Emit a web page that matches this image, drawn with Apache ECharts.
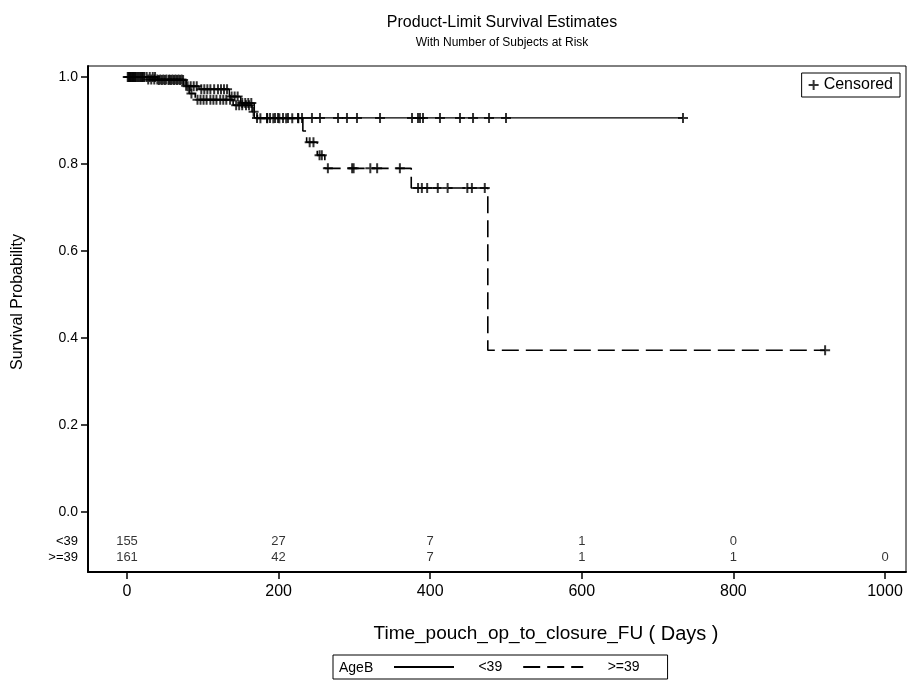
<!DOCTYPE html>
<html><head><meta charset="utf-8">
<script src="https://cdn.jsdelivr.net/npm/echarts@6/dist/echarts.min.js"></script>
<style>html,body{margin:0;padding:0;background:#fff}#c{width:907px;height:682px}</style>
</head><body><div id="c"></div>
<script>
// ---- data ----
const groupNames = ['<39', '>=39'];
const ltEventTimes = [40, 78, 95, 135, 150, 168];
const ltEventSurv  = [0.993, 0.979, 0.972, 0.955, 0.94, 0.906];
const ltCensorTimes = [2,4,6,8,10,12,15,18,20,23,26,30,34,37,42,46,50,55,58,62,66,70,74,80,84,88,92,
  98,102,106,110,115,120,124,128,132,138,142,146,152,156,160,164,
  171.5,184.7,188.7,195.3,199.2,205.8,212.4,225.6,230.9,244,254.6,278.4,290.2,303.4,333.8,376,383.9,386.5,390.5,412.9,439.3,456.5,477.6,500,733.5];
const geEventTimes = [25, 75, 82, 90, 140, 165, 172, 232, 237, 251, 261, 375, 476];
const geEventSurv  = [0.994, 0.98, 0.962, 0.948, 0.935, 0.92, 0.905, 0.876, 0.85, 0.82, 0.79, 0.745, 0.372];
const geCensorTimes = [1,3,5,7,9,11,14,17,20,22,28,32,36,40,44,48,52,56,60,64,68,72,78,85,
  93,97,101,105,110,114,118,123,127,131,136,144,148,152,157,161,167,176,185,193,201,210,218,226,
  241,246,254,257,265,297,299,321,330,360,384,389,396,410,423,449,455,472,921];
const riskTimes = [0, 200, 400, 600, 800, 1000];
const riskLt = [155, 27, 7, 1, 0];
const riskGe = [161, 42, 7, 1, 1, 0];
const riskRowY = [-0.0667, -0.1034];
const xTicks = [0, 200, 400, 600, 800, 1000];
const yTicks = [0, 0.2, 0.4, 0.6, 0.8, 1.0];

function survAt(t, times, surv) { let s = 1; for (let i = 0; i < times.length; i++) if (times[i] <= t) s = surv[i]; return s; }
function curve(times, surv, censors) {
  const last = Math.max(...censors);
  const d = [[0, 1]];
  times.forEach((t, i) => d.push([t, surv[i]]));
  d.push([last, survAt(last, times, surv)]);
  return d;
}
function censorPts(times, surv, censors) { return censors.map(t => [t, survAt(t, times, surv)]); }
function riskPts(counts, row) { return counts.map((c, i) => [riskTimes[i], riskRowY[row], c]); }

const plusPath = 'path://M0,4H10V6H0Z M4,0H6V10H4Z';
const FONT = 'Liberation Sans, Arial, sans-serif';

const chart = echarts.init(document.getElementById('c'), null, {renderer: 'canvas'});
chart.setOption({
  backgroundColor: '#fff',
  animation: false,
  title: [
    {text: 'Product-Limit Survival Estimates', left: 497, top: 10, textAlign: 'center',
     textStyle: {fontFamily: FONT, fontSize: 16, fontWeight: 'normal', color: '#000'}},
    {text: 'With Number of Subjects at Risk', left: 497, top: 32, textAlign: 'center',
     textStyle: {fontFamily: FONT, fontSize: 12, fontWeight: 'normal', color: '#000'}},
    {text: 'Time_pouch_op_to_closure_FU {b|( Days )}', left: 541, top: 619, textAlign: 'center',
     textStyle: {fontFamily: FONT, fontSize: 19, fontWeight: 'normal', color: '#000',
       rich: {b: {fontFamily: FONT, fontSize: 20, color: '#000'}}}}
  ],
  graphic: [
    {type: 'text', x: 18, y: 302, rotation: Math.PI / 2,
     style: {text: 'Survival Probability', fontFamily: FONT, fontSize: 16, fill: '#000', align: 'center', verticalAlign: 'middle'}},
    {type: 'text', x: 339, y: 668,
     style: {text: 'AgeB', fontFamily: FONT, fontSize: 14, fill: '#000', align: 'left', verticalAlign: 'middle'}}
  ],
  legend: [
    {data: [groupNames[0], groupNames[1]], left: 333, top: 655, orient: 'horizontal',
     padding: [5, 28, 5, 60], borderColor: '#000', borderWidth: 1, itemWidth: 60, itemHeight: 12, itemGap: 20,
     itemStyle: {color: 'rgba(0,0,0,0)', borderWidth: 0, opacity: 0},
     formatter: n => '     ' + n,
     textStyle: {fontFamily: FONT, fontSize: 14, color: '#000'}},
    {data: ['Censored'], right: 7, top: 73, padding: [4, 7, 4, 7], borderColor: '#000', borderWidth: 1,
     itemWidth: 10, itemHeight: 10, itemGap: 4,
     textStyle: {fontFamily: FONT, fontSize: 16, color: '#000'}}
  ],
  grid: {left: 88, top: 66, right: 1, bottom: 110, show: true, borderColor: '#000', borderWidth: 1, containLabel: false},
  xAxis: {
    type: 'value', min: -51.45, max: 1027.7,
    axisLine: {onZero: false, lineStyle: {color: '#000', width: 2}},
    axisTick: {show: true, inside: false, length: 7, customValues: xTicks, lineStyle: {color: '#000', width: 1.5}},
    axisLabel: {customValues: xTicks, margin: 12, fontFamily: FONT, fontSize: 16, color: '#000', formatter: v => String(v)},
    splitLine: {show: false}
  },
  yAxis: {
    type: 'value', min: -0.1379, max: 1.0253,
    axisLine: {onZero: false, lineStyle: {color: '#000', width: 2}},
    axisTick: {show: true, inside: false, length: 7, customValues: yTicks, lineStyle: {color: '#000', width: 1.5}},
    axisLabel: {customValues: [riskRowY[1], riskRowY[0]].concat(yTicks), margin: 10, fontFamily: FONT, fontSize: 14, color: '#000',
      rich: {r: {fontFamily: FONT, fontSize: 13, color: '#000'}},
      formatter: v => Math.abs(v - riskRowY[0]) < 1e-6 ? '{r|' + groupNames[0] + '}' : (Math.abs(v - riskRowY[1]) < 1e-6 ? '{r|' + groupNames[1] + '}' : v.toFixed(1))},
    splitLine: {show: false}
  },
  series: [
    {name: groupNames[0], type: 'line', step: 'end', symbol: 'none', data: curve(ltEventTimes, ltEventSurv, ltCensorTimes),
     lineStyle: {color: '#000', width: 1.4}, itemStyle: {color: '#000'}, silent: true},
    {name: groupNames[1], type: 'line', step: 'end', symbol: 'none', data: curve(geEventTimes, geEventSurv, geCensorTimes),
     lineStyle: {color: '#000', width: 1.6, type: [17, 7]}, itemStyle: {color: '#000'}, silent: true},
    {name: 'Censored', type: 'scatter', symbol: plusPath, symbolSize: 10, data: censorPts(ltEventTimes, ltEventSurv, ltCensorTimes),
     itemStyle: {color: '#000'}, silent: true},
    {name: 'Censored', type: 'scatter', symbol: plusPath, symbolSize: 10, data: censorPts(geEventTimes, geEventSurv, geCensorTimes),
     itemStyle: {color: '#000'}, silent: true},
    {type: 'scatter', symbolSize: 0, data: riskPts(riskLt, 0), silent: true,
     label: {show: true, position: 'inside', formatter: p => String(p.value[2]), fontFamily: FONT, fontSize: 13, color: '#000'}},
    {type: 'scatter', symbolSize: 0, data: riskPts(riskGe, 1), silent: true,
     label: {show: true, position: 'inside', formatter: p => String(p.value[2]), fontFamily: FONT, fontSize: 13, color: '#000'}}
  ]
});
</script></body></html>
